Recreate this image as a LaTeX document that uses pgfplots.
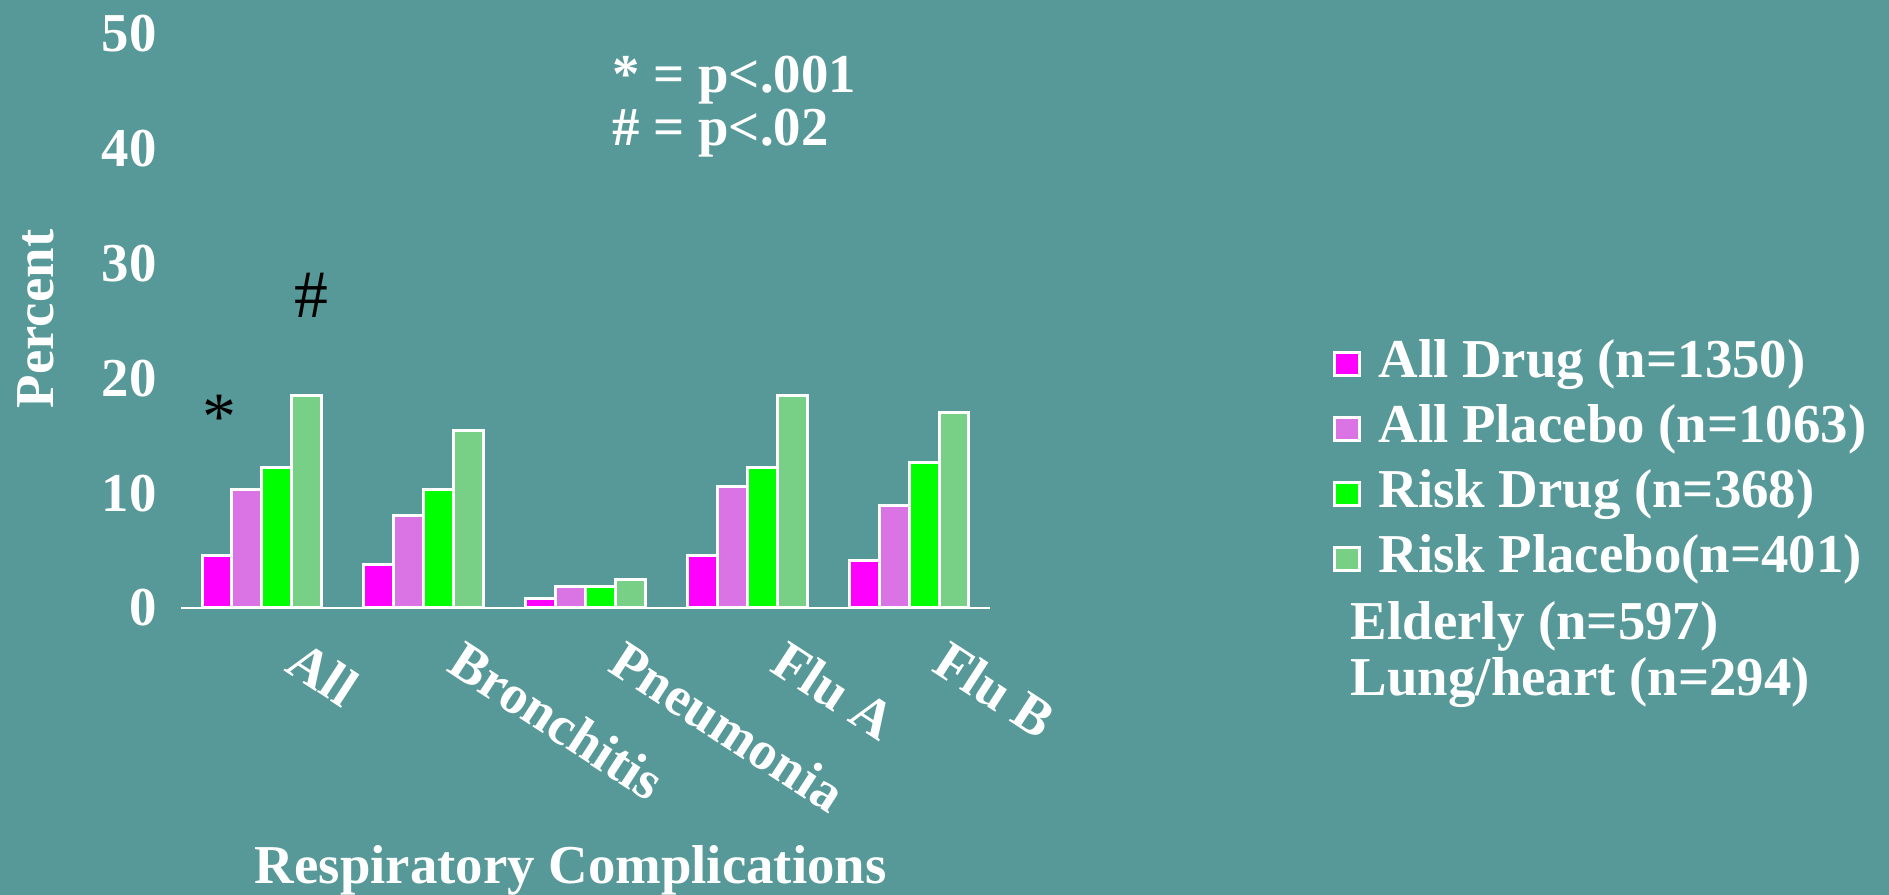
\documentclass[border=0pt]{standalone}
\usepackage{fontspec}
\setmainfont{Liberation Serif}
\usepackage{pgfplots}
\pgfplotsset{compat=1.18}

\definecolor{slide}{HTML}{579998}
\definecolor{alldrug}{HTML}{FF00FF}
\definecolor{allplac}{HTML}{DA74E4}
\definecolor{riskdrug}{HTML}{00FF00}
\definecolor{riskplac}{HTML}{78CF86}

\newcommand\lbl{\fontsize{27.5}{33}\selectfont\bfseries}
\newcommand\sigfont{\fontsize{34}{40}\selectfont}

\begin{document}
\begin{tikzpicture}
% slide background
\fill[slide, use as bounding box] (0,0) rectangle (944.5bp,447.5bp);

\begin{axis}[
  at={(90.5bp,143.5bp)}, anchor=south west,
  scale only axis, width=404.5bp, height=287bp,
  xmin=-0.5, xmax=4.5, ymin=0, ymax=50,
  ybar=0pt, bar width=0.185,
  axis x line*=bottom, axis y line*=left,
  x axis line style={white, line width=1.4bp},
  y axis line style={draw=none},
  major tick length=0pt,
  xtick={0,...,4},
  xticklabels={All,Bronchitis,Pneumonia,Flu A,Flu B},
  xticklabel style={font=\lbl, text=white, inner sep=0pt,
    xshift=21bp, yshift=-15bp, rotate=-33, anchor=north west},
  ytick={0,10,...,50},
  yticklabel style={font=\lbl, text=white, inner sep=0pt,
    anchor=east, xshift=-12bp},
  /pgf/number format/assume math mode=true,
  every axis plot/.append style={draw=white, line width=1.5bp},
  legend image code/.code={%
    \draw[#1, draw=white, line width=1.5bp] (0.75bp,-6.1bp) rectangle (13.25bp,5.4bp);
    \path (22bp,0bp);},
  legend cell align=left,
  legend style={draw=none, fill=none, text=white, font=\lbl,
    at={(1.4235,0.4749)}, anchor=north west, inner sep=0pt,
    row sep=5bp, column sep=0pt,
    nodes={inner sep=0pt, text height=20.6bp, text depth=6.9bp}},
]
\addplot[fill=alldrug]  coordinates {(0,4.6) (1,3.8) (2,0.8) (3,4.6) (4,4.1)};
\addlegendentry{All Drug (n=1350)}
\addplot[fill=allplac]  coordinates {(0,10.3) (1,8.1) (2,1.9) (3,10.6) (4,8.9)};
\addlegendentry{All Placebo (n=1063)}
\addplot[fill=riskdrug] coordinates {(0,12.2) (1,10.3) (2,1.9) (3,12.2) (4,12.7)};
\addlegendentry{Risk Drug (n=368)}
\addplot[fill=riskplac] coordinates {(0,18.5) (1,15.5) (2,2.5) (3,18.5) (4,17.0)};
\addlegendentry{Risk Placebo(n=401)}
\addlegendimage{empty legend}
\addlegendentry{\hspace*{-13.8bp}\raisebox{-1bp}{Elderly (n=597)}}
\addlegendimage{empty legend}
\addlegendentry{\hspace*{-13.8bp}\raisebox{3.5bp}{Lung/heart (n=294)}}

% significance marks
\node[font=\sigfont, text=black, inner sep=0pt, yshift=-4.4bp] at (axis cs:-0.263,17.4) {*};
\node[font=\sigfont, text=black, inner sep=0pt] at (axis cs:0.307,27.2) {\#};
\end{axis}

\node[rotate=90, font=\lbl, text=white, inner sep=0pt] at (18bp,288bp) {Percent};
\node[anchor=base, font=\lbl, text=white, inner sep=0pt] at (285.3bp,6bp) {Respiratory Complications};
\node[anchor=base west, font=\lbl, text=white, inner sep=0pt] at (306bp,401bp) {* = p<.001};
\node[anchor=base west, font=\lbl, text=white, inner sep=0pt] at (306bp,374.5bp) {\# = p<.02};
\end{tikzpicture}
\end{document}
